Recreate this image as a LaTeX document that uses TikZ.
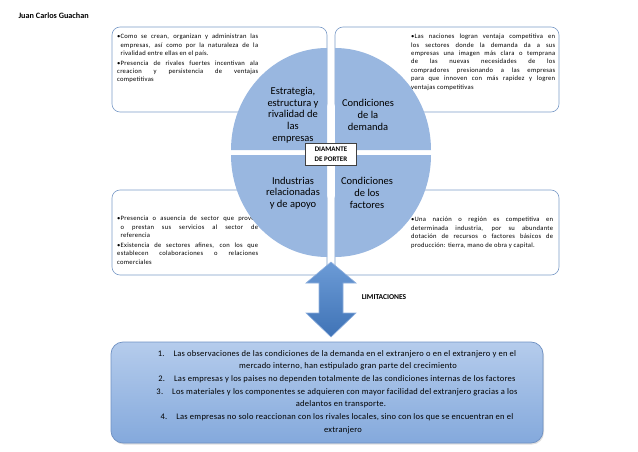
\documentclass[tikz,border=0pt]{standalone}
\usepackage{fontspec}
\setmainfont{Carlito}
\newfontfamily\notefont[LetterSpace=4]{Carlito}
\newfontfamily\listfont[LetterSpace=3]{Carlito}
\usetikzlibrary{shadows}

\definecolor{boxline}{HTML}{7C9CC8}
\definecolor{segblue}{HTML}{99B7E0}
\definecolor{arrowtop}{HTML}{6C9BD6}
\definecolor{arrowbot}{HTML}{3F73B6}
\definecolor{arrowline}{HTML}{8FB0DE}
\definecolor{listtop}{HTML}{B5CCEC}
\definecolor{listbot}{HTML}{84A9DC}
\definecolor{listline}{HTML}{6F91C3}

\newcommand{\bul}{\par\hangindent=3.5pt\hangafter=1\noindent\makebox[3.5pt][l]{\textbullet}}

\begin{document}
\begin{tikzpicture}[x=1pt,y=-1pt,
  note/.style={draw=boxline,line width=.6pt,rounded corners=8pt,fill=white},
  notetext/.style={anchor=north west,inner sep=0pt,text width=#1,align=justify,
    font=\notefont\fontsize{6.6}{8.4}\selectfont,
    execute at begin node=\setlength{\parskip}{1.2pt}},
  quarter/.style={fill=segblue},
  seglabel/.style={align=center,inner sep=0pt,font=\fontsize{10.5}{11.7}\selectfont},
  bold/.style={font=\bfseries\fontsize{#1}{10}\selectfont}]
\useasboundingbox (0,0) rectangle (638,452);

\node[bold=8.2,anchor=west] (autor) at (15,16) {Juan Carlos Guachan};

% cajas de fondo
\draw[note] (112,27) rectangle (327,112);
\draw[note] (335,27) rectangle (559,112);
\draw[note] (112,190) rectangle (327,275);
\draw[note] (335,190) rectangle (559,275);

\node[notetext=141pt] (estrTxt) at (117,29) {\bul Como se crean, organizan y administran las\linebreak
 empresas, así como por la naturaleza de la\linebreak rivalidad entre ellas en el país.
 \bul Presencia de rivales fuertes incentivan ala\linebreak creacion y persistencia de ventajas\linebreak competitivas};
\node[notetext=144pt] (demTxt) at (411,29) {\bul Las naciones logran ventaja competitiva en\linebreak
 los sectores donde la demanda da a sus\linebreak empresas una imagen más clara o temprana\linebreak
 de las nuevas necesidades de los\linebreak compradores presionando a las empresas\linebreak
 para que innoven con más rapidez y logren\linebreak ventajas competitivas};
\node[notetext=141pt] (indTxt) at (117,211) {\bul Presencia o asuencia de sector que provee\linebreak
 o prestan sus servicios al sector de\linebreak referencia
 \bul Existencia de sectores afines, con los que\linebreak establecen colaboraciones o relaciones\linebreak comerciales};
\node[notetext=142pt] (facTxt) at (411,212) {\bul Una nación o región es competitiva en\linebreak
 determinada industria, por su abundante\linebreak dotación de recursos o factores básicos de\linebreak
 producción: tierra, mano de obra y capital.};

% diamante
\foreach \cx/\cy/\a in {327/150/180, 335/150/270, 327/155/90, 335/155/0}
  \fill[quarter] (\cx,\cy) -- ++(\a:96 and 102) arc[start angle=\a,delta angle=90,x radius=96,y radius=102] -- cycle;

\node[seglabel] (estr) at (293,115) {Estrategia,\\estructura y\\rivalidad de\\las\\empresas};
\node[seglabel] (dem) at (368,115) {Condiciones\\de la\\demanda};
\node[seglabel] (ind) at (293,193) {Industrias\\relacionadas\\y de apoyo};
\node[seglabel] (fac) at (367,193) {Condiciones\\de los\\factores};

\node[draw=black!75,line width=.8pt,fill=white,minimum width=51pt,minimum height=22pt,
  inner sep=0pt,align=center,font=\bfseries\fontsize{7}{10}\selectfont] (porter) at (331,154) {DIAMANTE\\DE PORTER};

% flecha doble
\coordinate (arr) at (331,262);
\draw[arrowline,line width=.6pt,top color=arrowtop,bottom color=arrowbot]
  (arr) -- ++(25,21) -- ++(-13,0) -- ++(0,30) -- ++(13,0) -- ++(-25,24)
  -- ++(-25,-24) -- ++(13,0) -- ++(0,-30) -- ++(-13,0) -- cycle;
\node[bold=7.5] (limit) at (384,297) {LIMITACIONES};

% lista inferior
\draw[draw=listline,line width=.7pt,rounded corners=12pt,top color=listtop,bottom color=listbot,
  drop shadow={opacity=.25,shadow xshift=1pt,shadow yshift=-1.5pt}] (111,342) rectangle (543,443);
\node[align=center,inner sep=0pt,font=\listfont\fontsize{8.5}{12.7}\selectfont] (limitList) at (337,392)
 {1.\hspace{9pt}Las observaciones de las condiciones de la demanda en el extranjero o en el extranjero y en el\\
  \hspace*{22pt}mercado interno, han estipulado gran parte del crecimiento\\
  2.\hspace{9pt}Las empresas y los paises no dependen totalmente de las condiciones internas de los factores\\
  3.\hspace{9pt}Los materiales y los componentes se adquieren con mayor facilidad del extranjero gracias a los\\
  \hspace*{8pt}adelantos en transporte.\\
  4.\hspace{9pt}Las empresas no solo reaccionan con los rivales locales, sino con los que se encuentran en el\\
  \hspace*{12pt}extranjero};
\end{tikzpicture}
\end{document}
